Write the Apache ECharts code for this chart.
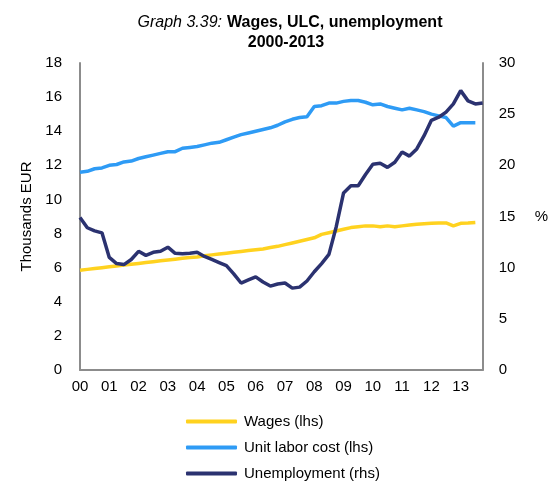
<!DOCTYPE html>
<html>
<head>
<meta charset="utf-8">
<script src="https://cdn.jsdelivr.net/npm/echarts@6/dist/echarts.min.js"></script>
<style>
  html, body { margin: 0; padding: 0; background: #fff; }
  #chart { width: 551px; height: 481px; }
</style>
</head>
<body>
<div id="chart"></div>
<script>
// Quarterly observations, 2000Q1 - 2013Q4
const quarters = [];
for (let y = 0; y <= 13; y++) {
  for (let q = 1; q <= 4; q++) {
    quarters.push(String(y).padStart(2, '0') + 'Q' + q);
  }
}

// Average wages, thousands EUR (left axis)
const wages = [
  5.85, 5.9, 5.95, 6.0, 6.05, 6.1, 6.15, 6.2, 6.25, 6.3,
  6.35, 6.4, 6.45, 6.5, 6.55, 6.6, 6.62, 6.7, 6.75, 6.8,
  6.85, 6.9, 6.95, 7.0, 7.05, 7.1, 7.18, 7.25, 7.35, 7.45,
  7.55, 7.65, 7.75, 7.95, 8.05, 8.15, 8.25, 8.35, 8.4, 8.45,
  8.45, 8.4, 8.45, 8.4, 8.45, 8.5, 8.55, 8.58, 8.6, 8.62,
  8.62, 8.45, 8.6, 8.62, 8.65, null
];

// Unit labor cost, thousands EUR (left axis)
const ulc = [
  11.6, 11.65, 11.8, 11.85, 12.0, 12.05, 12.2, 12.25, 12.4, 12.5,
  12.6, 12.7, 12.8, 12.8, 13.0, 13.05, 13.1, 13.2, 13.3, 13.35,
  13.5, 13.65, 13.8, 13.9, 14.0, 14.1, 14.2, 14.35, 14.55, 14.7,
  14.8, 14.85, 15.45, 15.5, 15.65, 15.65, 15.75, 15.8, 15.8, 15.7,
  15.55, 15.6, 15.45, 15.35, 15.25, 15.35, 15.25, 15.15, 15.0, 14.9,
  14.8, 14.3, 14.5, 14.5, 14.5, null
];

// Unemployment rate, % (right axis)
const unemployment = [
  14.9, 13.9, 13.6, 13.4, 11.0, 10.4, 10.3, 10.8, 11.6, 11.2,
  11.5, 11.6, 12.0, 11.4, 11.35, 11.4, 11.5, 11.1, 10.8, 10.5,
  10.2, 9.4, 8.5, 8.8, 9.1, 8.6, 8.2, 8.4, 8.5, 8.0,
  8.1, 8.7, 9.6, 10.4, 11.3, 14.0, 17.3, 18.0, 18.0, 19.1,
  20.1, 20.2, 19.8, 20.3, 21.3, 20.9, 21.6, 22.9, 24.4, 24.7,
  25.2, 26.0, 27.3, 26.3, 26.0, 26.1
];

const FONT = '"Liberation Sans", Arial, sans-serif';
const AXIS_GREY = '#8c8c8c';

const chart = echarts.init(document.getElementById('chart'), null, { renderer: 'canvas' });

chart.setOption({
  animation: false,
  textStyle: { fontFamily: FONT, color: '#000' },
  title: [
    {
      left: 290,
      top: 14,
      textAlign: 'center',
      padding: 0,
      text: '{i|Graph 3.39:} {b|Wages, ULC, unemployment}',
      textStyle: {
        fontWeight: 'normal',
        rich: {
          i: { fontStyle: 'italic', fontWeight: 'normal', fontSize: 16, fontFamily: FONT, color: '#000' },
          b: { fontWeight: 'bold', fontSize: 16, fontFamily: FONT, color: '#000' }
        }
      }
    },
    {
      left: 286,
      top: 35,
      textAlign: 'center',
      padding: 0,
      text: '2000-2013',
      textStyle: { fontWeight: 'bold', fontSize: 16, fontFamily: FONT, color: '#000' }
    }
  ],
  grid: { left: 80, right: 64, top: 63, bottom: 111, containLabel: false },
  legend: {
    orient: 'vertical',
    left: 186,
    top: 414,
    height: 100,
    padding: 0,
    itemWidth: 51,
    itemHeight: 4,
    itemGap: 11,
    icon: 'roundRect',
    textStyle: { fontSize: 15, fontFamily: FONT, color: '#000', padding: [0, 0, 0, 2] },
    data: ['Wages (lhs)', 'Unit labor cost (lhs)', 'Unemployment (rhs)']
  },
  xAxis: {
    type: 'category',
    data: quarters,
    boundaryGap: false,
    axisLine: { lineStyle: { color: AXIS_GREY, width: 2 } },
    axisTick: { show: false },
    axisLabel: {
      interval: 3,
      fontSize: 15,
      color: '#000',
      margin: 9,
      formatter: v => v.slice(0, 2)
    },
    splitLine: { show: false }
  },
  yAxis: [
    {
      type: 'value',
      min: 0,
      max: 18,
      interval: 2,
      name: 'Thousands EUR',
      nameLocation: 'middle',
      nameGap: 44,
      nameTextStyle: { fontSize: 15, color: '#000' },
      axisLine: { show: true, lineStyle: { color: AXIS_GREY, width: 2 } },
      axisTick: { show: false },
      axisLabel: { fontSize: 15, color: '#000', margin: 18 },
      splitLine: { show: false }
    },
    {
      type: 'value',
      min: 0,
      max: 30,
      interval: 5,
      name: '%',
      nameLocation: 'middle',
      nameRotate: 0,
      nameGap: 52,
      nameTextStyle: { fontSize: 15, color: '#000' },
      axisLine: { show: true, lineStyle: { color: AXIS_GREY, width: 2 } },
      axisTick: { show: false },
      axisLabel: { fontSize: 15, color: '#000', margin: 16 },
      splitLine: { show: false }
    }
  ],
  series: [
    {
      name: 'Wages (lhs)',
      type: 'line',
      yAxisIndex: 0,
      data: wages,
      showSymbol: false,
      lineStyle: { color: '#FFD21F', width: 3.5 },
      itemStyle: { color: '#FFD21F' }
    },
    {
      name: 'Unit labor cost (lhs)',
      type: 'line',
      yAxisIndex: 0,
      data: ulc,
      showSymbol: false,
      lineStyle: { color: '#2E9BF5', width: 3.5 },
      itemStyle: { color: '#2E9BF5' }
    },
    {
      name: 'Unemployment (rhs)',
      type: 'line',
      yAxisIndex: 1,
      data: unemployment,
      showSymbol: false,
      lineStyle: { color: '#2B3270', width: 3.5 },
      itemStyle: { color: '#2B3270' }
    }
  ]
});
</script>
</body>
</html>
